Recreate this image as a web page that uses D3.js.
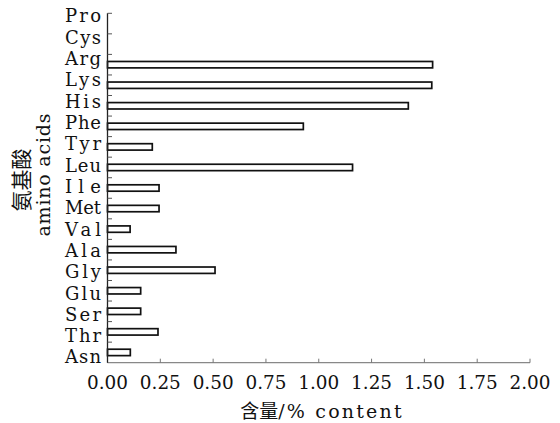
<!DOCTYPE html>
<html><head><meta charset="utf-8">
<script src="https://cdn.jsdelivr.net/npm/d3@7"></script>
<style>html,body{margin:0;padding:0;background:#fff;}svg{display:block;}</style>
</head><body>
<svg id="c" width="560" height="423"></svg>
<script>
const categories = ["Pro","Cys","Arg","Lys","His","Phe","Tyr","Leu","Ile","Met","Val","Ala","Gly","Glu","Ser","Thr","Asn"];
const values = [0,0,1.539,1.535,1.424,0.927,0.212,1.16,0.244,0.244,0.107,0.324,0.509,0.157,0.157,0.239,0.108];
const xTicks = [0,0.25,0.5,0.75,1.0,1.25,1.5,1.75,2.0];
const xTitleCn = "含量";
const xTitleEn = "/% content";
const yTitleCn = "氨基酸";
const yTitleEn = "amino acids";

const svg = d3.select("#c");
const L = 107.5, R = 530, T = 13.3, B = 362.7;
const x = d3.scaleLinear().domain([0,2]).range([L,R]);
const y = d3.scaleBand().domain(categories).range([T,B]).paddingInner(0).paddingOuter(0);
const yLab = d3.scalePoint().domain(categories).range([16,357]);
const serif = "DejaVu Serif";
const cjk = "Noto Sans CJK SC";

// bars
const barH = 6.4;
svg.append("g").selectAll("rect").data(categories.filter((c,i)=>values[i]>0)).join("rect")
  .attr("x", x(0))
  .attr("y", c => y(c) + (y.bandwidth()-barH)/2)
  .attr("width", c => x(values[categories.indexOf(c)]) - x(0))
  .attr("height", barH)
  .attr("fill","#fff").attr("stroke","#111").attr("stroke-width",1.7);

// x axis
const gx = svg.append("g").attr("transform",`translate(0,${B})`);
gx.append("line").attr("x1",L).attr("x2",R).attr("stroke","#888").attr("stroke-width",1.2);
gx.selectAll("line.t").data(xTicks).join("line").attr("class","t")
  .attr("x1",d=>x(d)).attr("x2",d=>x(d)).attr("y1",0).attr("y2",-4)
  .attr("stroke","#777").attr("stroke-width",1);
gx.selectAll("text").data(xTicks).join("text")
  .attr("x",d=>x(d)).attr("y",26).attr("text-anchor","middle")
  .attr("font-family",serif).attr("font-size",19).attr("fill","#111")
  .attr("textLength",41).attr("lengthAdjust","spacingAndGlyphs")
  .text(d=>d3.format(".2f")(d));

// y axis
const gy = svg.append("g");
gy.append("line").attr("x1",L).attr("x2",L).attr("y1",T).attr("y2",B).attr("stroke","#222").attr("stroke-width",1.3);
const bounds = categories.map(c=>y(c));
gy.selectAll("line.t").data(bounds).join("line").attr("class","t")
  .attr("x1",L).attr("x2",L+4.5).attr("y1",d=>d).attr("y2",d=>d)
  .attr("stroke","#555").attr("stroke-width",1);
gy.selectAll("text").data(categories).join("text")
  .attr("x",101).attr("y",c=>yLab(c)).attr("dy","0.36em").attr("text-anchor","end")
  .attr("font-family",serif).attr("font-size",18).attr("fill","#111")
  .attr("textLength",36).attr("lengthAdjust","spacing")
  .text(c=>c);

// titles
const xt = svg.append("text").attr("x",322).attr("y",418).attr("text-anchor","middle")
  .attr("font-size",19).attr("fill","#111");
xt.append("tspan").attr("font-family",cjk).text(xTitleCn);
xt.append("tspan").attr("font-family",serif).attr("letter-spacing",2.2).text(xTitleEn);
svg.append("text").attr("transform","translate(29,180) rotate(-90)").attr("text-anchor","middle")
  .attr("font-family",cjk).attr("font-size",21).attr("fill","#111").text(yTitleCn);
svg.append("text").attr("transform","translate(50,175) rotate(-90)").attr("text-anchor","middle")
  .attr("font-family",serif).attr("font-size",19).attr("fill","#111")
  .attr("textLength",123).attr("lengthAdjust","spacing").text(yTitleEn);
</script>
</body></html>
